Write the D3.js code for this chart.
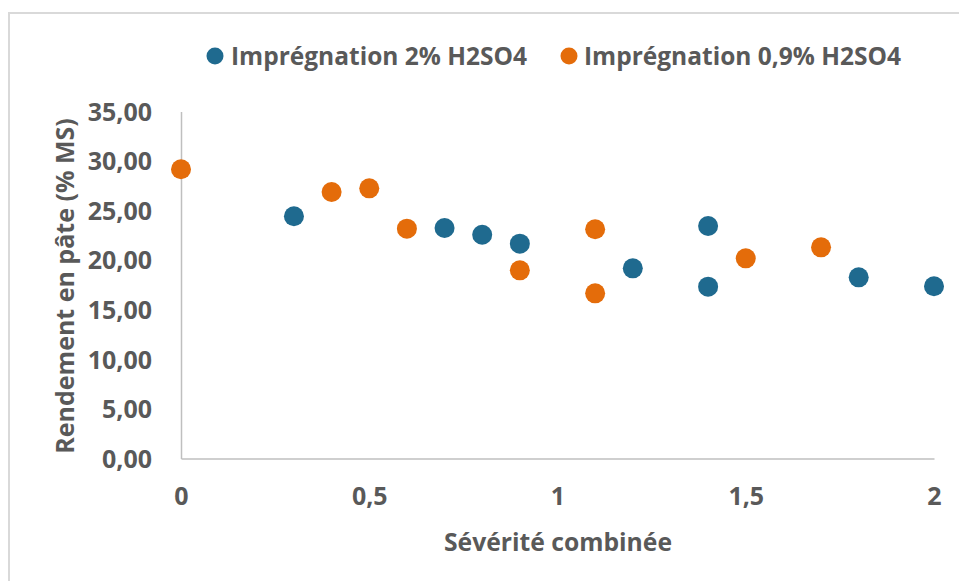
<!DOCTYPE html>
<html>
<head>
<meta charset="utf-8">
<script src="https://cdn.jsdelivr.net/npm/d3@7"></script>
<style>
  html, body { margin: 0; padding: 0; background: #fff; }
  svg { display: block; }
  text { font-family: "Open Sans", sans-serif; font-weight: 700; fill: #595959; }
</style>
</head>
<body>
<svg id="chart" width="959" height="581"></svg>
<script>
// Pulp yield versus combined severity, two impregnation conditions
const seriesNames = ["Imprégnation 2% H2SO4", "Imprégnation 0,9% H2SO4"];
const seriesColors = ["#1F6A8F", "#E46C0A"];

const severity2 = [0.3, 0.7, 0.8, 0.9, 1.2, 1.4, 1.4, 1.8, 2.0];
const yield2    = [24.43, 23.25, 22.57, 21.67, 19.18, 23.45, 17.33, 18.27, 17.37];

const severity09 = [0.0, 0.4, 0.5, 0.6, 0.9, 1.1, 1.1, 1.5, 1.7];
const yield09    = [29.17, 26.88, 27.25, 23.18, 18.98, 23.12, 16.66, 20.19, 21.30];

const xTicks = [0, 0.5, 1, 1.5, 2];
const yTicks = [0, 5, 10, 15, 20, 25, 30, 35];

const xTitle = "Sévérité combinée";
const yTitle = "Rendement en pâte (% MS)";

const svg = d3.select("#chart");

// outer frame (only top and left edges are visible)
svg.append("rect")
  .attr("x", 9).attr("y", 13)
  .attr("width", 1000).attr("height", 1000)
  .attr("fill", "none")
  .attr("stroke", "#D9D9D9")
  .attr("stroke-width", 2);

const x = d3.scaleLinear().domain([0, 2]).range([181, 934]);
const y = d3.scaleLinear().domain([0, 35]).range([458.5, 111.5]);

const commaFmt = d => d3.format(".2f")(d).replace(".", ",");
const xFmt = d => String(d).replace(".", ",");

// y axis
const gy = svg.append("g")
  .attr("transform", `translate(${x(0)},0)`)
  .call(d3.axisLeft(y).tickValues(yTicks).tickFormat(commaFmt).tickSize(0).tickPadding(29));
gy.select(".domain").attr("stroke", "#BFBFBF").attr("stroke-width", 1.5);
gy.selectAll("text")
  .attr("font-size", 25)
  .attr("dy", "0.35em");

// x axis
const gx = svg.append("g")
  .attr("transform", `translate(0,${y(0)})`)
  .call(d3.axisBottom(x).tickValues(xTicks).tickFormat(xFmt).tickSize(0).tickPadding(0));
gx.select(".domain").attr("stroke", "#BFBFBF").attr("stroke-width", 1.5);
gx.selectAll("text")
  .attr("font-size", 25)
  .attr("y", 38)
  .attr("dy", "0.35em");

gy.attr("font-family", null).attr("font-size", null);
gx.attr("font-family", null).attr("font-size", null);

// axis titles
svg.append("text")
  .attr("x", 558).attr("y", 542)
  .attr("dy", "0.35em")
  .attr("text-anchor", "middle")
  .attr("font-size", 24.7)
  .text(xTitle);

svg.append("text")
  .attr("transform", "translate(65,286) rotate(-90)")
  .attr("dy", "0.35em")
  .attr("text-anchor", "middle")
  .attr("font-size", 25)
  .text(yTitle);

// points
const series = [
  { xs: severity2, ys: yield2, color: seriesColors[0] },
  { xs: severity09, ys: yield09, color: seriesColors[1] }
];
series.forEach(s => {
  svg.append("g").selectAll("circle")
    .data(s.xs.map((v, i) => [v, s.ys[i]]))
    .join("circle")
    .attr("cx", d => x(d[0]))
    .attr("cy", d => y(d[1]))
    .attr("r", 10)
    .attr("fill", s.color);
});

// legend
const legendItems = [
  { name: seriesNames[0], color: seriesColors[0], cx: 215, tx: 231 },
  { name: seriesNames[1], color: seriesColors[1], cx: 569, tx: 584 }
];
const lg = svg.append("g");
legendItems.forEach(it => {
  lg.append("circle").attr("cx", it.cx).attr("cy", 56).attr("r", 8.5).attr("fill", it.color);
  lg.append("text").attr("x", it.tx).attr("y", 56).attr("dy", "0.35em")
    .attr("font-size", 24.5).text(it.name);
});
</script>
</body>
</html>
